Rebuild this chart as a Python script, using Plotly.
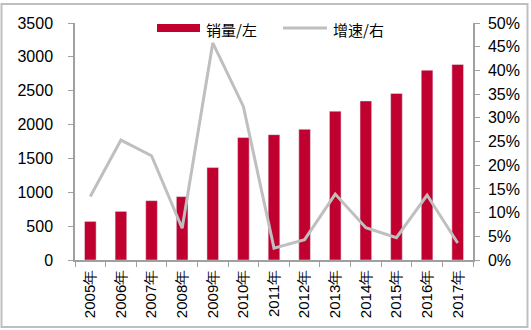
import plotly.graph_objects as go

years = ["2005年", "2006年", "2007年", "2008年", "2009年", "2010年", "2011年",
         "2012年", "2013年", "2014年", "2015年", "2016年", "2017年"]
sales = [570, 718, 876, 936, 1365, 1808, 1851, 1930, 2198, 2349, 2460, 2803, 2888]
growth = [0.134, 0.253, 0.220, 0.067, 0.458, 0.324, 0.025, 0.043, 0.139, 0.068, 0.047, 0.137, 0.036]

BAR = "#C0002F"
LINE = "#BFBFBF"
AX = "#A0A0A0"
tick_font = dict(family="Liberation Sans, Arial, sans-serif", size=16, color="#000000")

fig = go.Figure()
fig.add_trace(go.Bar(x=years, y=sales, name="销量/左", marker_color=BAR,
                     width=0.38, yaxis="y"))
fig.add_trace(go.Scatter(x=years, y=growth, name="增速/右", mode="lines",
                         line=dict(color=LINE, width=3), yaxis="y2"))

W, H = 531, 330
L, R, T, B = 75, 58, 23, 70
pw, ph = W - L - R, H - T - B

def px(x):
    return (x - L) / pw

def py(y):
    return (H - B - y) / ph

shapes = [
    # outer border
    dict(type="rect", xref="paper", yref="paper", x0=px(1.5), x1=px(527.5),
         y0=py(327), y1=py(4), line=dict(color="#BFBFBF", width=2)),
    # legend samples
    dict(type="rect", xref="paper", yref="paper", x0=px(157), x1=px(200),
         y0=py(32), y1=py(24), fillcolor=BAR, line=dict(width=0)),
    dict(type="line", xref="paper", yref="paper", x0=px(283), x1=px(327),
         y0=py(28), y1=py(28), line=dict(color=LINE, width=3)),
]
legend_font = dict(family="Noto Sans CJK SC", size=15, color="#000000")
annotations = [
    dict(text="销量/左", xref="paper", yref="paper", x=px(204), y=py(29),
         xanchor="left", yanchor="middle", showarrow=False, font=legend_font),
    dict(text="增速/右", xref="paper", yref="paper", x=px(331), y=py(29),
         xanchor="left", yanchor="middle", showarrow=False, font=legend_font),
]

fig.update_layout(
    width=W, height=H,
    margin=dict(l=L, r=R, t=T, b=B, pad=0, autoexpand=False),
    paper_bgcolor="white", plot_bgcolor="white",
    showlegend=False,
    bargap=0.6,
    shapes=shapes, annotations=annotations,
    xaxis=dict(type="category", tickangle=-90, tickfont=dict(tick_font, size=15),
               showline=True, linecolor=AX, linewidth=1.5, ticks="outside",
               tickson="boundaries", ticklen=5, tickcolor=AX, showgrid=False,
               ticklabelstandoff=2, automargin=False),
    yaxis=dict(range=[0, 3500], dtick=500, tickfont=tick_font, showline=True,
               linecolor=AX, linewidth=1.5, ticks="outside", ticklen=5,
               tickcolor=AX, showgrid=False, zeroline=False,
               ticklabelstandoff=12, automargin=False),
    yaxis2=dict(range=[0, 0.5], dtick=0.05, tickformat=".0%", tickfont=tick_font,
                overlaying="y", side="right", showline=True, linecolor=AX,
                linewidth=1.5, ticks="outside", ticklen=5, tickcolor=AX,
                showgrid=False, zeroline=False, ticklabelstandoff=5,
                automargin=False),
)

fig.write_html("out.html")
